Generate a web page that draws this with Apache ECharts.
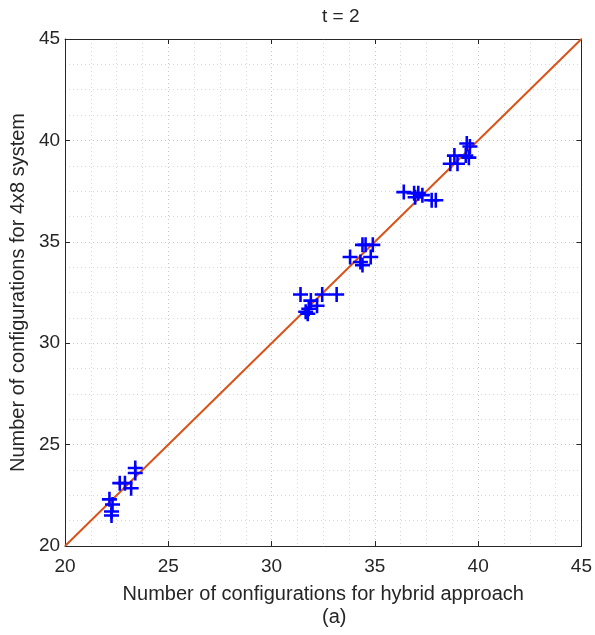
<!DOCTYPE html>
<html>
<head>
<meta charset="utf-8">
<script src="https://cdn.jsdelivr.net/npm/echarts@6/dist/echarts.min.js"></script>
<style>html,body{margin:0;padding:0;background:#fff}#main{width:595px;height:635px}</style>
</head>
<body>
<div id="main"></div>
<script>
var hybridX = [22.15, 22.3, 22.25, 22.25, 22.65, 22.9, 23.2, 23.4, 23.4,
  31.4, 32.45, 33.15, 31.9, 32.2, 31.8, 31.65, 31.75,
  34.4, 34.55, 34.9, 33.8, 34.8, 34.3, 34.4,
  36.4, 36.9, 37.1, 37.3, 36.95, 37.75, 37.95,
  39.45, 39.6, 38.85, 39.4, 39.55, 38.65, 39.0];
var systemY = [22.3, 22.05, 21.7, 21.5, 23.1, 23.1, 22.85, 23.6, 23.85,
  32.4, 32.4, 32.4, 32.1, 31.85, 31.7, 31.55, 31.45,
  34.85, 34.85, 34.85, 34.25, 34.25, 34.0, 33.85,
  37.45, 37.4, 37.4, 37.3, 37.2, 37.05, 37.05,
  39.85, 39.7, 39.25, 39.25, 39.15, 38.85, 38.85];
var refLine = [[20, 20], [45, 45]];
var ticks = [20, 25, 30, 35, 40, 45];

var pts = hybridX.map(function (x, i) { return [x, systemY[i]]; });
var dark = '#262626';
var font = 'Liberation Sans, Arial, sans-serif';
function axisBase(pos, show) {
  return {
    type: 'value', min: ticks[0], max: ticks[ticks.length - 1], interval: 5, position: pos,
    axisLine: { show: true, lineStyle: { color: dark, width: 1 } },
    axisTick: { show: true, inside: true, length: 5, lineStyle: { color: dark } },
    axisLabel: { show: show, color: dark, fontSize: 19, fontFamily: font },
    splitLine: { show: show, lineStyle: { color: '#c8c8c8', type: [1, 3], width: 1 } },
    minorTick: { show: false, splitNumber: 4 },
    minorSplitLine: { show: show, lineStyle: { color: '#d8d8d8', type: [1, 3], width: 1 } }
  };
}
var xa = axisBase('bottom', true);
xa.axisLabel.margin = 11;
xa.name = 'Number of configurations for hybrid approach';
xa.nameLocation = 'middle'; xa.nameGap = 38;
xa.nameTextStyle = { color: dark, fontSize: 20, fontFamily: font };
var xt = axisBase('top', false);
var ya = axisBase('left', true);
ya.axisLabel.margin = 5;
ya.name = 'Number of configurations for 4x8 system';
ya.nameLocation = 'middle'; ya.nameGap = 35;
ya.nameTextStyle = { color: dark, fontSize: 20, fontFamily: font };
var yr = axisBase('right', false);

var chart = echarts.init(document.getElementById('main'), null, { renderer: 'canvas' });
chart.setOption({
  animation: false,
  grid: { left: 63, right: 13, top: 39, bottom: 89 },
  xAxis: [xa, xt],
  yAxis: [ya, yr],
  graphic: [
    { type: 'text', left: 322, top: 7, style: { text: 't = 2', fill: dark, font: '19px ' + font, textAlign: 'center' } },
    { type: 'text', left: 322, top: 607, style: { text: '(a)', fill: dark, font: '20px ' + font, textAlign: 'center' } }
  ],
  series: [
    { type: 'line', data: refLine, symbol: 'none', lineStyle: { color: '#D95319', width: 2 }, z: 2 },
    { type: 'scatter', data: pts, symbol: 'path://M-7,-1.2H7V1.2H-7Z M-1.2,-7H1.2V7H-1.2Z', symbolSize: 15,
      itemStyle: { color: '#0000FF', opacity: 1 }, z: 3 }
  ]
});
</script>
</body>
</html>
